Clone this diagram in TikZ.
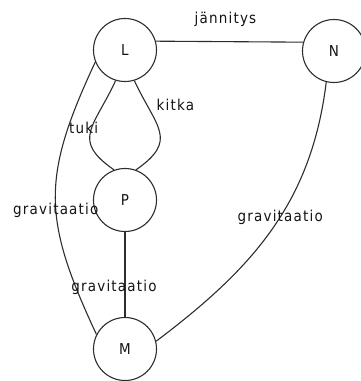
\documentclass[tikz,border=0pt]{standalone}
\usepackage{fontspec}
\setmainfont{DejaVu Sans Condensed}[LetterSpace=8]
\usepackage{tikz}
\usetikzlibrary{positioning}
\definecolor{lineGray}{RGB}{45, 45, 45}
\definecolor{textGray}{RGB}{20, 20, 20}

\begin{document}
\begin{tikzpicture}[
    x=1pt, y=1pt,
    body/.style={circle, draw=lineGray, line width=1.1pt, minimum size=63pt, inner sep=0pt, font=\fontsize{15}{17}\selectfont, text=textGray},
    force/.style={-, line width=1.1pt, lineGray},
    lbl/.style={font=\fontsize{15}{17}\selectfont, text=textGray, inner sep=1pt}
]
    % Frame
    \useasboundingbox (0,0) rectangle (360,-381);

    % Bodies
    \node[body] (L) at (125,-50) {L};
    \node[body] (N) at (334,-51) {N};
    \node[body] (P) at (125,-200) {P};
    \node[body] (M) at (125,-349) {M};

    % Forces between the bodies
    \draw[force] (L.16) -- node[lbl, above=13pt, xshift=-4pt] (jn) {jännitys} (N.164);
    \draw[force] (L.253) to[out=245, in=145, looseness=1.5] node[lbl, pos=0.45, xshift=-8pt] (tk) {tuki} (P.110);
    \draw[force] (L.287) to[out=295, in=35, looseness=1.5] node[lbl, pos=0.2, right=8pt] (kt) {kitka} (P.70);
    \draw[force] (L.202) to[out=245, in=115, looseness=1.2] node[lbl, pos=0.55] (g1) {gravitaatio} (M.153);
    \draw[force] (P) -- node[lbl, pos=0.65, xshift=-11pt] (g2) {gravitaatio} (M);
    \draw[force] (N.256) to[out=263, in=37, looseness=1.0] node[lbl, pos=0.45] (g3) {gravitaatio} (M.14);
\end{tikzpicture}
\end{document}
